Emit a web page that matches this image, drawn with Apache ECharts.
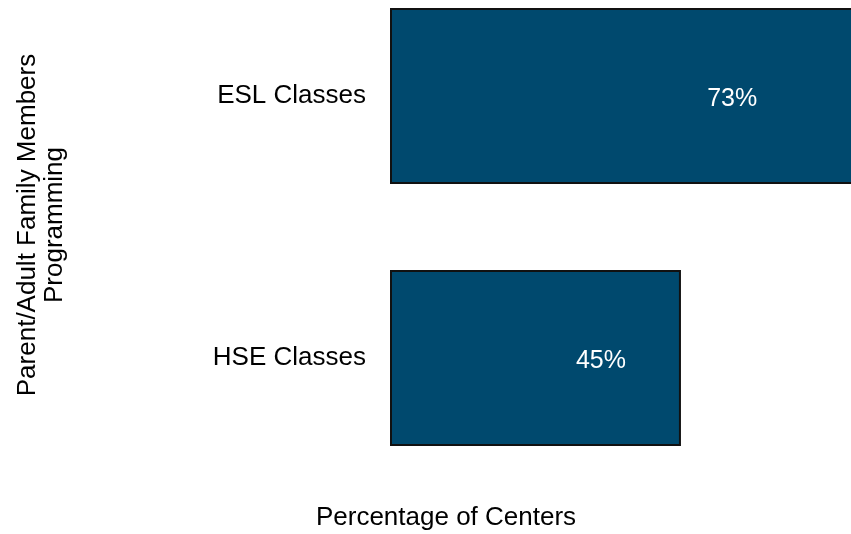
<!DOCTYPE html>
<html>
<head>
<meta charset="utf-8">
<script src="https://cdn.jsdelivr.net/npm/echarts@6/dist/echarts.min.js"></script>
<style>
  html, body { margin: 0; padding: 0; background: #fff; }
  #chart { width: 851px; height: 534px; }
</style>
</head>
<body>
<div id="chart"></div>
<script>
// data
const categories = ['HSE Classes', 'ESL Classes']
const values     = [45, 73]
const yTitle     = 'Parent/Adult Family Members\nProgramming'
const xTitle     = 'Percentage of Centers'

const chart = echarts.init(document.getElementById('chart'))
const font = 'Liberation Sans, Arial, sans-serif'

chart.setOption({
  animation: false,
  // ESL bar runs past the right edge of the picture, so the axis ends before 73
  grid: { left: 390, right: 0, top: 96, bottom: 176, containLabel: false },
  xAxis: {
    type: 'value', min: 0, max: 71.3,
    axisLine: { show: false }, axisTick: { show: false },
    axisLabel: { show: false }, splitLine: { show: false }
  },
  yAxis: {
    type: 'category', data: categories, boundaryGap: false,
    axisLine: { show: false }, axisTick: { show: false }, splitLine: { show: false },
    axisLabel: { fontFamily: font, fontSize: 26, color: '#000', margin: 24 }
  },
  graphic: [
    {
      type: 'text', x: 446, y: 518,
      style: { text: xTitle, font: '26px ' + font, fill: '#000', align: 'center', verticalAlign: 'middle' },
      silent: true
    },
    {
      type: 'text', x: 41, y: 225, rotation: Math.PI / 2,
      style: {
        text: yTitle, font: '26px ' + font, fill: '#000',
        align: 'center', verticalAlign: 'middle', lineHeight: 27
      },
      silent: true
    }
  ],
  series: [{
    type: 'bar',
    data: values,
    barWidth: 176,
    clip: false,
    itemStyle: { color: '#00496e', borderColor: '#111', borderWidth: 2 },
    label: {
      show: true, position: ['72.5%', '52%'], align: 'center', verticalAlign: 'middle',
      formatter: '{c}%', color: '#fff', fontFamily: font, fontSize: 25
    }
  }]
})
</script>
</body>
</html>
